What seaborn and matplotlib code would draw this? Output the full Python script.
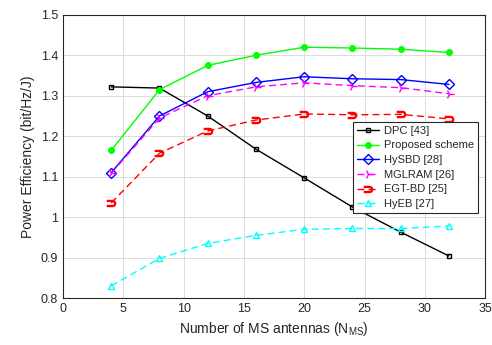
import matplotlib
matplotlib.use("Agg")
import matplotlib.pyplot as plt
import seaborn as sns
import pandas as pd

x = [4, 8, 12, 16, 20, 24, 28, 32]
dpc = [1.322, 1.319, 1.250, 1.168, 1.097, 1.025, 0.963, 0.904]
proposed = [1.165, 1.315, 1.375, 1.400, 1.420, 1.418, 1.415, 1.407]
hysbd = [1.110, 1.250, 1.310, 1.333, 1.347, 1.342, 1.340, 1.328]
mglram = [1.108, 1.245, 1.300, 1.322, 1.332, 1.325, 1.320, 1.305]
egtbd = [1.035, 1.158, 1.213, 1.240, 1.255, 1.253, 1.254, 1.243]
hyeb = [0.830, 0.898, 0.935, 0.955, 0.970, 0.972, 0.972, 0.978]

names = ["DPC [43]", "Proposed scheme", "HySBD [28]", "MGLRAM [26]", "EGT-BD [25]", "HyEB [27]"]
series = [dpc, proposed, hysbd, mglram, egtbd, hyeb]
colors = ["black", "#00ff00", "blue", "magenta", "red", "cyan"]
markers = ["s", "o", "D", "4", r"$\supset$", "^"]
styles = ["-", "-", "-", (0, (5, 3)), (0, (5, 3)), (0, (5, 3))]
fills = ["none", "#00ff00", "none", "none", "none", "none"]
msizes = [3.5, 4, 5, 7, 6, 5]

sns.set_style("white")
plt.rcParams["font.family"] = ["Liberation Sans", "DejaVu Sans"]

fig = plt.figure(figsize=(4.92, 3.45), dpi=100)
ax = fig.add_axes([0.128, 0.136, 0.858, 0.821])

for name, vals, c, m, ls, fc, ms in zip(names, series, colors, markers, styles, fills, msizes):
    df = pd.DataFrame({"x": x, "y": vals})
    sns.lineplot(data=df, x="x", y="y", ax=ax, color=c, marker=m, linestyle=ls,
                 markerfacecolor=fc, markeredgecolor=c, markersize=ms, linewidth=1,
                 label=name, markeredgewidth=1)

ax.set_xlim(0, 35)
ax.set_ylim(0.8, 1.5)
ax.set_xticks([0, 5, 10, 15, 20, 25, 30, 35])
ax.set_yticks([0.8, 0.9, 1.0, 1.1, 1.2, 1.3, 1.4, 1.5])
ax.set_yticklabels(["0.8", "0.9", "1", "1.1", "1.2", "1.3", "1.4", "1.5"])
ax.grid(True, color="#dcdcdc", linewidth=0.7)
ax.tick_params(labelsize=9, direction="in", length=3, colors="#262626")
for s in ax.spines.values():
    s.set_color("#262626")
    s.set_linewidth(0.8)
ax.set_xlabel("Number of MS antennas (N$_{\\mathregular{MS}}$)", fontsize=10)
ax.set_ylabel("Power Efficiency (bit/Hz/J)", fontsize=10)

leg = ax.legend(loc="upper right", bbox_to_anchor=(0.983, 0.622), fontsize=8,
                frameon=True, fancybox=False, edgecolor="#262626", framealpha=1,
                borderpad=0.35, labelspacing=0.42, handlelength=2.0, handletextpad=0.4,
                borderaxespad=0)
leg.get_frame().set_linewidth(0.8)

fig.savefig("out.png", dpi=100)
